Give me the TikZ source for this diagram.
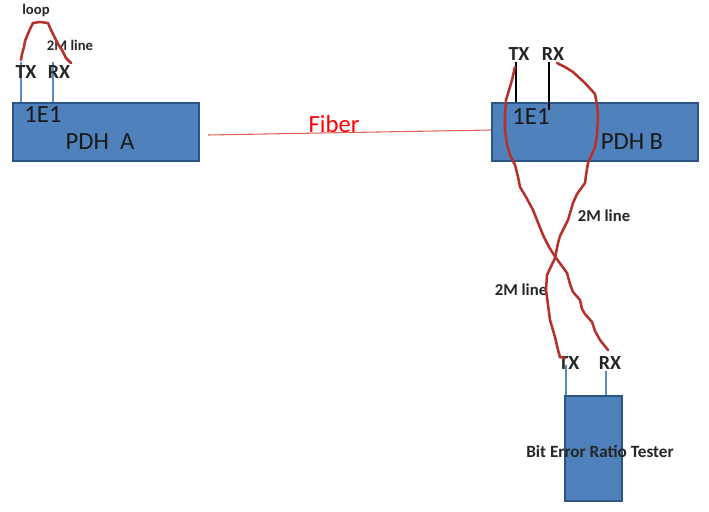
\documentclass[tikz,border=0pt]{standalone}
\usepackage{fontspec}
\setmainfont{Carlito}
\tikzset{
  px/.style={x=0.75pt,y=-0.75pt},
  blockbox/.style={draw=boxedge,line width=1.5pt,fill=boxfill,inner sep=0pt,anchor=north west},
  stub/.style={draw=stubblue,line width=1.1pt},
  blackstub/.style={draw=black,line width=1.1pt},
  redline/.style={draw=wire,line width=1.9pt,line cap=round,line join=round},
  port/.style={font=\fontsize{15}{17}\selectfont\bfseries,text=black!85,inner sep=0pt},
  big/.style={font=\fontsize{18.5}{20}\selectfont,text=black!90,inner sep=0pt},
  small/.style={font=\fontsize{11}{13}\selectfont\bfseries,text=black!85,inner sep=0pt}
}
\definecolor{boxfill}{HTML}{4F81BD}
\definecolor{boxedge}{HTML}{2A5585}
\definecolor{stubblue}{HTML}{5A8AC6}
\definecolor{wire}{HTML}{B5312C}
\definecolor{fiberred}{HTML}{E0605A}
\begin{document}
\begin{tikzpicture}[px]
\useasboundingbox (0,0) rectangle (709,511);
% boxes
\node[blockbox,minimum width=140pt,minimum height=43.5pt] (pdha) at (11.5,101.5) {};
\node[blockbox,minimum width=155pt,minimum height=43.5pt] (pdhb) at (490.5,101.5) {};
\node[blockbox,minimum width=43pt,minimum height=79pt] (bert) at (563.5,394.5) {};
% free ends
\coordinate (atx) at (21,62);
\coordinate (atxb) at (21,102);
\coordinate (arx) at (53,62);
\coordinate (arxb) at (53,102);
\coordinate (btx) at (516,62);
\coordinate (btxb) at (516,102);
\coordinate (brx) at (549,62);
\coordinate (brxb) at (549,110);
\coordinate (ttx) at (566,365);
\coordinate (ttxb) at (566,395);
\coordinate (trx) at (606,371);
\coordinate (trxb) at (606,395);
\coordinate (fa) at (208,135);
\coordinate (fb) at (491,130);
% stubs
\draw[stub] (atx) -- (atxb);
\draw[stub] (arx) -- (arxb);
\draw[stub] (ttx) -- (ttxb);
\draw[stub] (trx) -- (trxb);
\draw[blackstub] (btx) -- (btxb);
\draw[blackstub] (brx) -- (brxb);
\draw[draw=fiberred,line width=0.8pt] (fa) -- (fb);
% labels
\node[small] (loop) at (36,11) {loop};
\node[small] (la2m) at (70,45) {2M line};
\node[port] (tat) at (26,72) {TX};
\node[port] (rat) at (59,72) {RX};
\node[big] (e1a) at (43,115) {1E1};
\node[big] (pa) at (100,142) {PDH\ \ A};
\node[font=\fontsize{18.5}{20}\selectfont,text=red,inner sep=0pt] (fib) at (334,124) {Fiber};
\node[port] (tbt) at (519,54) {TX};
\node[port] (rbt) at (553,54) {RX};
\node[big] (e1b) at (531,117) {1E1};
\node[big] (pb) at (632,142) {PDH B};
\node[port,font=\fontsize{12.5}{14}\selectfont\bfseries] (l2a) at (604,216) {2M line};
\node[port,font=\fontsize{12.5}{14}\selectfont\bfseries] (l2b) at (521,290) {2M line};
\node[port] (ttt) at (569,363) {TX};
\node[port] (trt) at (610,363) {RX};
\node[port,font=\fontsize{12.9}{15}\selectfont\bfseries] (bl) at (600,452) {Bit Error Ratio Tester};
% red wires
\draw[redline] (21,60) -- (22,54) -- (24,47) -- (25,41) -- (27,36) -- (30,29) -- (33,23) -- (40,22) -- (48,23) -- (51,30) -- (55,38) -- (58,44) -- (62,50) -- (66,58) -- (71,63);
\draw[redline] (515,67) -- (512,80) -- (509,90) -- (506,100) -- (505,115) -- (505,130) -- (507,145) -- (510,155) -- (515,165) -- (518,177) -- (520,187) -- (526,197) -- (533,210) -- (537,220) -- (543,235) -- (549,247) -- (556,258) -- (562,266) -- (567,273) -- (570,284) -- (573,292) -- (580,300) -- (582,309) -- (585,314) -- (592,322) -- (595,331) -- (600,340) -- (608,350);
\draw[redline] (557,63) -- (565,67) -- (573,72) -- (585,83) -- (595,94) -- (597,105) -- (598,117) -- (597,135) -- (595,147) -- (588,163) -- (586,175) -- (585,183) -- (577,194) -- (573,203) -- (568,220) -- (560,236) -- (558,243) -- (555,258) -- (547,275) -- (546,290) -- (548,305) -- (550,320) -- (555,337) -- (558,350) -- (560,357) -- (565,358);
\end{tikzpicture}
\end{document}
